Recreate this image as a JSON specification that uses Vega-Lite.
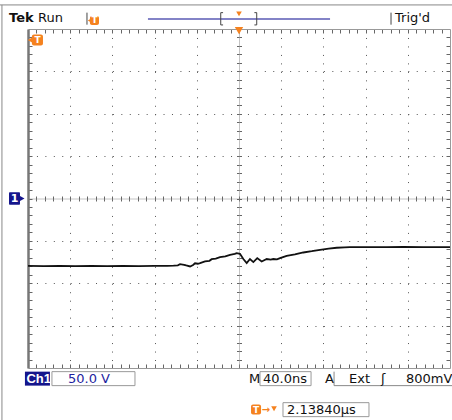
{
  "$schema": "https://vega.github.io/schema/vega-lite/v6.json",
  "width": 422,
  "height": 339,
  "autosize": "none",
  "padding": {"left": 28, "top": 29, "right": 2, "bottom": 52},
  "background": "white",
  "config": {"view": {"stroke": null}},
  "resolve": {"axis": {"x": "independent", "y": "independent"}},
  "datasets": {
    "trace": [
      {"t": -200, "v": -79.5}, {"t": -185, "v": -79.8}, {"t": -170, "v": -79.4}, {"t": -155, "v": -79.7},
      {"t": -140, "v": -79.5}, {"t": -125, "v": -79.8}, {"t": -110, "v": -79.4}, {"t": -95, "v": -79.7},
      {"t": -80, "v": -79.5}, {"t": -68, "v": -79.6}, {"t": -62, "v": -79.2}, {"t": -58, "v": -78.8},
      {"t": -55.9, "v": -77.5}, {"t": -52, "v": -78.2}, {"t": -50, "v": -79}, {"t": -46.4, "v": -80.2},
      {"t": -43.5, "v": -78.5}, {"t": -41.7, "v": -76.4}, {"t": -39, "v": -77}, {"t": -36.9, "v": -76.3},
      {"t": -32.2, "v": -74.3}, {"t": -28, "v": -73.5}, {"t": -25.9, "v": -71.6}, {"t": -22, "v": -70.9},
      {"t": -18, "v": -69.1}, {"t": -13, "v": -68.2}, {"t": -8.5, "v": -66.4}, {"t": -4, "v": -65.4},
      {"t": -2.2, "v": -64.4}, {"t": 0.9, "v": -65.2}, {"t": 4.1, "v": -71.4}, {"t": 7.3, "v": -76.2},
      {"t": 10.4, "v": -71.4}, {"t": 13.6, "v": -75}, {"t": 17.3, "v": -70.3}, {"t": 21.5, "v": -74.3},
      {"t": 26.3, "v": -71.4}, {"t": 30, "v": -72}, {"t": 32.5, "v": -71.4}, {"t": 36, "v": -71.8},
      {"t": 38.9, "v": -70.3}, {"t": 45.2, "v": -67.6}, {"t": 53, "v": -65.8}, {"t": 61, "v": -63.7},
      {"t": 69, "v": -62.2}, {"t": 76.8, "v": -60.5}, {"t": 85, "v": -59.2}, {"t": 92.6, "v": -58.1},
      {"t": 100, "v": -57.6}, {"t": 105.2, "v": -57.3}, {"t": 124.2, "v": -57.3}, {"t": 140, "v": -57.4},
      {"t": 155.8, "v": -57.2}, {"t": 175, "v": -57.4}, {"t": 200, "v": -57.3}
    ],
    "frame": [
      {"t": -224.7, "t2": -224.7, "v": 228.4, "v2": -261.4},
      {"t": -226.6, "t2": 201.9, "v": 228.4, "v2": 228.4},
      {"t": 90.1, "t2": 90.1, "v": -204.3, "v2": -220.8},
      {"t": 90.1, "t2": 201.9, "v": -220.8, "v2": -220.8}
    ],
    "darkRules": [
      {"t": -144.1, "t2": -144.1, "v": 219.3, "v2": 205.1},
      {"t": 144.1, "t2": 144.1, "v": 219.3, "v2": 205.1},
      {"t": -17.3, "t2": -17.3, "v": 219.3, "v2": 204.8},
      {"t": -17.3, "t2": -15.1, "v": 219.3, "v2": 219.3},
      {"t": -17.3, "t2": -15.1, "v": 204.8, "v2": 204.8},
      {"t": 16.8, "t2": 16.8, "v": 219.3, "v2": 204.8},
      {"t": 14.6, "t2": 16.8, "v": 219.3, "v2": 219.3},
      {"t": 14.6, "t2": 16.8, "v": 204.8, "v2": 204.8}
    ],
    "blueLine": [{"t": -86.3, "t2": 86.3, "v": 211.8, "v2": 211.8}],
    "boxes": [
      {"t": -177.3, "t2": -98.6, "v": -204.3, "v2": -220.8},
      {"t": 19.9, "t2": 68.3, "v": -204.3, "v2": -220.8},
      {"t": 41.7, "t2": 123.2, "v": -240.9, "v2": -257.4}
    ],
    "ch1bg": [{"t": -202.9, "t2": -179.2, "v": -204.3, "v2": -220.8}],
    "labels": [
      {"t": -190.5, "v": 212.5, "text": "Run"},
      {"t": 147.9, "v": 212.5, "text": "Trig'd"},
      {"t": 9.5, "v": -212.6, "text": "M"},
      {"t": 22.8, "v": -212.6, "text": "40.0ns"},
      {"t": 81.5, "v": -212.6, "text": "A"},
      {"t": 104.3, "v": -212.6, "text": "Ext"},
      {"t": 134.6, "v": -212.6, "text": "ʃ"},
      {"t": 158.3, "v": -212.6, "text": "800mV"},
      {"t": 45.5, "v": -249.2, "text": "2.13840μs"}
    ],
    "tek": [{"t": -218, "v": 212.5, "text": "Tek"}],
    "ch1": [{"t": -201.5, "v": -212.6, "text": "Ch1"}],
    "volts": [{"t": -162.1, "v": -212.6, "text": "50.0 V"}],
    "orangeTags": [
      {"t": -196.3, "t2": -185.8, "v": 193.6, "v2": 180.6},
      {"t": -141.3, "t2": -132.7, "v": 215.4, "v2": 204.8},
      {"t": 11.4, "t2": 20.9, "v": -243.2, "v2": -255}
    ],
    "orangeLeft": [{"t": -197.2, "v": 187.1}, {"t": -140.3, "v": 210.1}],
    "orangeDownBig": [{"t": 0, "v": 198}],
    "orangeDownSmall": [{"t": 0, "v": 217.8}, {"t": 33.2, "v": -248}],
    "orangeArrow": [{"t": 25.6, "v": -249.2, "text": "→"}],
    "tLetters": [
      {"t": -191, "v": 187.1, "text": "T"},
      {"t": -137, "v": 210.1, "text": "T"},
      {"t": 16.1, "v": -249.2, "text": "T"}
    ],
    "blueTag": [{"t": -218.0, "t2": -207.6, "v": 7.3, "v2": -7.4}],
    "blueRight": [{"t": -206.5, "v": 0}],
    "oneLetter": [{"t": -212.8, "v": 0, "text": "1"}]
  },
  "layer": [
    {
      "data": {"name": "frame"},
      "mark": {"type": "rule", "color": "#888", "strokeWidth": 1},
      "encoding": {
        "x": {"field": "t", "type": "quantitative", "scale": {"domain": [-200, 200], "nice": false, "zero": false},
          "axis": {"orient": "top", "offset": -339, "title": null, "labels": false, "grid": false, "ticks": true, "domain": true, "tickSize": 4, "tickColor": "#666", "domainColor": "#999", "domainWidth": 1,
            "values": [-192,-184,-176,-168,-160,-152,-144,-136,-128,-120,-112,-104,-96,-88,-80,-72,-64,-56,-48,-40,-32,-24,-16,-8,0,8,16,24,32,40,48,56,64,72,80,88,96,104,112,120,128,136,144,152,160,168,176,184,192]}},
        "x2": {"field": "t2"},
        "y": {"field": "v", "type": "quantitative", "scale": {"domain": [-200, 200], "nice": false, "zero": false},
          "axis": {"orient": "left", "offset": -422, "title": null, "labels": false, "grid": false, "ticks": true, "domain": true, "tickSize": 4, "tickColor": "#666", "domainColor": "#999", "domainWidth": 1,
            "values": [-190,-180,-170,-160,-150,-140,-130,-120,-110,-100,-90,-80,-70,-60,-50,-40,-30,-20,-10,0,10,20,30,40,50,60,70,80,90,100,110,120,130,140,150,160,170,180,190]}},
        "y2": {"field": "v2"}
      }
    },
    {
      "data": {"name": "boxes"},
      "mark": {"type": "rect", "fillOpacity": 0, "stroke": "#999", "strokeWidth": 1},
      "encoding": {
        "x": {"field": "t", "type": "quantitative", "scale": {"domain": [-200, 200], "nice": false, "zero": false},
          "axis": {"orient": "bottom", "offset": -339, "title": null, "labels": false, "grid": false, "ticks": true, "domain": true, "tickSize": 4, "tickColor": "#666", "domainColor": "#999", "domainWidth": 1,
            "values": [-192,-184,-176,-168,-160,-152,-144,-136,-128,-120,-112,-104,-96,-88,-80,-72,-64,-56,-48,-40,-32,-24,-16,-8,0,8,16,24,32,40,48,56,64,72,80,88,96,104,112,120,128,136,144,152,160,168,176,184,192]}},
        "x2": {"field": "t2"},
        "y": {"field": "v", "type": "quantitative", "scale": {"domain": [-200, 200], "nice": false, "zero": false},
          "axis": {"orient": "right", "offset": -422, "title": null, "labels": false, "grid": false, "ticks": true, "domain": true, "tickSize": 4, "tickColor": "#666", "domainColor": "#777", "domainWidth": 2.5,
            "values": [-190,-180,-170,-160,-150,-140,-130,-120,-110,-100,-90,-80,-70,-60,-50,-40,-30,-20,-10,0,10,20,30,40,50,60,70,80,90,100,110,120,130,140,150,160,170,180,190]}},
        "y2": {"field": "v2"}
      }
    },
    {
      "data": {"name": "ch1bg"},
      "mark": {"type": "rect", "fill": "#15158c"},
      "encoding": {
        "x": {"field": "t", "type": "quantitative", "scale": {"domain": [-200, 200], "nice": false, "zero": false}, "axis": null},
        "x2": {"field": "t2"},
        "y": {"field": "v", "type": "quantitative", "scale": {"domain": [-200, 200], "nice": false, "zero": false}, "axis": null},
        "y2": {"field": "v2"}
      }
    },
    {
      "data": {"name": "blueLine"},
      "mark": {"type": "rule", "color": "#5a5ab4", "strokeWidth": 1.5},
      "encoding": {
        "x": {"field": "t", "type": "quantitative", "scale": {"domain": [-200, 200], "nice": false, "zero": false}, "axis": null},
        "x2": {"field": "t2"},
        "y": {"field": "v", "type": "quantitative", "scale": {"domain": [-200, 200], "nice": false, "zero": false}, "axis": null},
        "y2": {"field": "v2"}
      }
    },
    {
      "data": {"name": "darkRules"},
      "mark": {"type": "rule", "color": "#444", "strokeWidth": 1},
      "encoding": {
        "x": {"field": "t", "type": "quantitative", "scale": {"domain": [-200, 200], "nice": false, "zero": false},
          "axis": {"orient": "bottom", "offset": -169.5, "title": null, "labels": false, "grid": false, "ticks": true, "domain": true, "tickSize": 2.5, "tickColor": "#666", "domainColor": "#888", "domainDash": [1, 1], "domainWidth": 1,
            "values": [-192,-184,-176,-168,-160,-152,-144,-136,-128,-120,-112,-104,-96,-88,-80,-72,-64,-56,-48,-40,-32,-24,-16,-8,0,8,16,24,32,40,48,56,64,72,80,88,96,104,112,120,128,136,144,152,160,168,176,184,192]}},
        "x2": {"field": "t2"},
        "y": {"field": "v", "type": "quantitative", "scale": {"domain": [-200, 200], "nice": false, "zero": false},
          "axis": {"orient": "right", "offset": -211, "title": null, "labels": false, "grid": false, "ticks": true, "domain": true, "tickSize": 2.5, "tickColor": "#666", "domainColor": "#888", "domainDash": [1, 1], "domainWidth": 1,
            "values": [-190,-180,-170,-160,-150,-140,-130,-120,-110,-100,-90,-80,-70,-60,-50,-40,-30,-20,-10,0,10,20,30,40,50,60,70,80,90,100,110,120,130,140,150,160,170,180,190]}},
        "y2": {"field": "v2"}
      }
    },
    {
      "data": {"name": "trace"},
      "mark": {"type": "line", "color": "#111", "strokeWidth": 1.8, "interpolate": "linear"},
      "encoding": {
        "x": {"field": "t", "type": "quantitative", "scale": {"domain": [-200, 200], "nice": false, "zero": false},
          "axis": {"orient": "bottom", "title": null, "labels": false, "ticks": false, "domain": false, "grid": true, "gridColor": "#555", "gridWidth": 1, "gridDash": [1, 7.475],
            "values": [-160, -120, -80, -40, 40, 80, 120, 160]}},
        "y": {"field": "v", "type": "quantitative", "scale": {"domain": [-200, 200], "nice": false, "zero": false},
          "axis": {"orient": "left", "title": null, "labels": false, "ticks": false, "domain": false, "grid": true, "gridColor": "#555", "gridWidth": 1, "gridDash": [1, 7.44],
            "values": [-150, -100, -50, 50, 100, 150]}}
      }
    },
    {
      "data": {"name": "labels"},
      "mark": {"type": "text", "align": "left", "baseline": "middle", "font": "DejaVu Sans", "fontSize": 13, "color": "#111"},
      "encoding": {
        "x": {"field": "t", "type": "quantitative", "scale": {"domain": [-200, 200], "nice": false, "zero": false},
          "axis": {"orient": "top", "offset": -169.5, "title": null, "labels": false, "grid": false, "ticks": true, "domain": false, "tickSize": 2.5, "tickColor": "#666",
            "values": [-192,-184,-176,-168,-160,-152,-144,-136,-128,-120,-112,-104,-96,-88,-80,-72,-64,-56,-48,-40,-32,-24,-16,-8,0,8,16,24,32,40,48,56,64,72,80,88,96,104,112,120,128,136,144,152,160,168,176,184,192]}},
        "y": {"field": "v", "type": "quantitative", "scale": {"domain": [-200, 200], "nice": false, "zero": false},
          "axis": {"orient": "left", "offset": -211, "title": null, "labels": false, "grid": false, "ticks": true, "domain": false, "tickSize": 2.5, "tickColor": "#666",
            "values": [-190,-180,-170,-160,-150,-140,-130,-120,-110,-100,-90,-80,-70,-60,-50,-40,-30,-20,-10,0,10,20,30,40,50,60,70,80,90,100,110,120,130,140,150,160,170,180,190]}},
        "text": {"field": "text", "type": "nominal"}
      }
    },
    {
      "data": {"name": "tek"},
      "mark": {"type": "text", "align": "left", "baseline": "middle", "font": "DejaVu Sans", "fontSize": 13, "fontWeight": "bold", "color": "#111"},
      "encoding": {
        "x": {"field": "t", "type": "quantitative", "scale": {"domain": [-200, 200], "nice": false, "zero": false}, "axis": null},
        "y": {"field": "v", "type": "quantitative", "scale": {"domain": [-200, 200], "nice": false, "zero": false}, "axis": null},
        "text": {"field": "text", "type": "nominal"}
      }
    },
    {
      "data": {"name": "ch1"},
      "mark": {"type": "text", "align": "left", "baseline": "middle", "font": "Liberation Sans", "fontSize": 13, "fontWeight": "bold", "color": "white"},
      "encoding": {
        "x": {"field": "t", "type": "quantitative", "scale": {"domain": [-200, 200], "nice": false, "zero": false}, "axis": null},
        "y": {"field": "v", "type": "quantitative", "scale": {"domain": [-200, 200], "nice": false, "zero": false}, "axis": null},
        "text": {"field": "text", "type": "nominal"}
      }
    },
    {
      "data": {"name": "volts"},
      "mark": {"type": "text", "align": "left", "baseline": "middle", "font": "DejaVu Sans", "fontSize": 13, "color": "#1e1ea0"},
      "encoding": {
        "x": {"field": "t", "type": "quantitative", "scale": {"domain": [-200, 200], "nice": false, "zero": false}, "axis": null},
        "y": {"field": "v", "type": "quantitative", "scale": {"domain": [-200, 200], "nice": false, "zero": false}, "axis": null},
        "text": {"field": "text", "type": "nominal"}
      }
    },
    {
      "data": {"name": "orangeTags"},
      "mark": {"type": "rect", "fill": "#f5821f", "cornerRadius": 2},
      "encoding": {
        "x": {"field": "t", "type": "quantitative", "scale": {"domain": [-200, 200], "nice": false, "zero": false}, "axis": null},
        "x2": {"field": "t2"},
        "y": {"field": "v", "type": "quantitative", "scale": {"domain": [-200, 200], "nice": false, "zero": false}, "axis": null},
        "y2": {"field": "v2"}
      }
    },
    {
      "data": {"name": "orangeLeft"},
      "mark": {"type": "point", "shape": "triangle-left", "filled": true, "color": "#f5821f", "size": 55, "opacity": 1},
      "encoding": {
        "x": {"field": "t", "type": "quantitative", "scale": {"domain": [-200, 200], "nice": false, "zero": false}, "axis": null},
        "y": {"field": "v", "type": "quantitative", "scale": {"domain": [-200, 200], "nice": false, "zero": false}, "axis": null}
      }
    },
    {
      "data": {"name": "orangeDownBig"},
      "mark": {"type": "point", "shape": "triangle-down", "filled": true, "color": "#f5821f", "size": 70, "opacity": 1},
      "encoding": {
        "x": {"field": "t", "type": "quantitative", "scale": {"domain": [-200, 200], "nice": false, "zero": false}, "axis": null},
        "y": {"field": "v", "type": "quantitative", "scale": {"domain": [-200, 200], "nice": false, "zero": false}, "axis": null}
      }
    },
    {
      "data": {"name": "orangeDownSmall"},
      "mark": {"type": "point", "shape": "triangle-down", "filled": true, "color": "#f5821f", "size": 32, "opacity": 1},
      "encoding": {
        "x": {"field": "t", "type": "quantitative", "scale": {"domain": [-200, 200], "nice": false, "zero": false}, "axis": null},
        "y": {"field": "v", "type": "quantitative", "scale": {"domain": [-200, 200], "nice": false, "zero": false}, "axis": null}
      }
    },
    {
      "data": {"name": "orangeArrow"},
      "mark": {"type": "text", "align": "center", "baseline": "middle", "font": "DejaVu Sans", "fontSize": 10, "fontWeight": "bold", "color": "#f5821f"},
      "encoding": {
        "x": {"field": "t", "type": "quantitative", "scale": {"domain": [-200, 200], "nice": false, "zero": false}, "axis": null},
        "y": {"field": "v", "type": "quantitative", "scale": {"domain": [-200, 200], "nice": false, "zero": false}, "axis": null},
        "text": {"field": "text", "type": "nominal"}
      }
    },
    {
      "data": {"name": "tLetters"},
      "mark": {"type": "text", "align": "center", "baseline": "middle", "font": "DejaVu Sans", "fontSize": 9, "fontWeight": "bold", "color": "white"},
      "encoding": {
        "x": {"field": "t", "type": "quantitative", "scale": {"domain": [-200, 200], "nice": false, "zero": false}, "axis": null},
        "y": {"field": "v", "type": "quantitative", "scale": {"domain": [-200, 200], "nice": false, "zero": false}, "axis": null},
        "text": {"field": "text", "type": "nominal"}
      }
    },
    {
      "data": {"name": "blueTag"},
      "mark": {"type": "rect", "fill": "#15158c", "cornerRadius": 1},
      "encoding": {
        "x": {"field": "t", "type": "quantitative", "scale": {"domain": [-200, 200], "nice": false, "zero": false}, "axis": null},
        "x2": {"field": "t2"},
        "y": {"field": "v", "type": "quantitative", "scale": {"domain": [-200, 200], "nice": false, "zero": false}, "axis": null},
        "y2": {"field": "v2"}
      }
    },
    {
      "data": {"name": "blueRight"},
      "mark": {"type": "point", "shape": "triangle-right", "filled": true, "color": "#15158c", "size": 60, "opacity": 1},
      "encoding": {
        "x": {"field": "t", "type": "quantitative", "scale": {"domain": [-200, 200], "nice": false, "zero": false}, "axis": null},
        "y": {"field": "v", "type": "quantitative", "scale": {"domain": [-200, 200], "nice": false, "zero": false}, "axis": null}
      }
    },
    {
      "data": {"name": "oneLetter"},
      "mark": {"type": "text", "align": "center", "baseline": "middle", "font": "DejaVu Sans", "fontSize": 11, "fontWeight": "bold", "color": "white"},
      "encoding": {
        "x": {"field": "t", "type": "quantitative", "scale": {"domain": [-200, 200], "nice": false, "zero": false}, "axis": null},
        "y": {"field": "v", "type": "quantitative", "scale": {"domain": [-200, 200], "nice": false, "zero": false}, "axis": null},
        "text": {"field": "text", "type": "nominal"}
      }
    }
  ]
}
